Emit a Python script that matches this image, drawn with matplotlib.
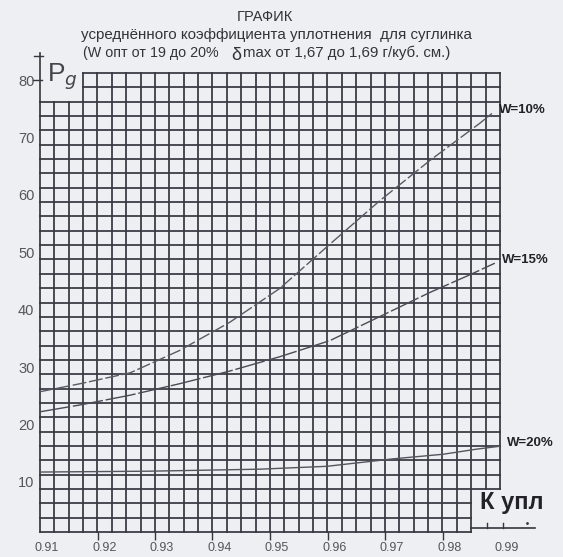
import numpy as np
import matplotlib.pyplot as plt
from matplotlib.transforms import ScaledTranslation

# values
k_upl_10 = [0.910, 0.917, 0.9257, 0.9343, 0.943, 0.9517, 0.9604, 0.9691, 0.9778, 0.9865, 0.9886]
p_10 = [25.7, 27.1, 29.0, 32.9, 37.8, 43.7, 51.4, 59.0, 66.0, 72.5, 74.2]

k_upl_15 = [0.910, 0.917, 0.9257, 0.9343, 0.943, 0.9517, 0.9604, 0.9691, 0.9778, 0.9848, 0.9891]
p_15 = [22.2, 23.4, 25.1, 27.1, 29.3, 31.8, 34.6, 38.8, 43.0, 46.1, 48.1]

k_upl_20 = [0.910, 0.9291, 0.9483, 0.9599, 0.9714, 0.9801, 0.9860, 0.990]
p_20 = [11.7, 11.85, 12.2, 12.7, 14.0, 14.8, 15.7, 16.2]

curve_labels = ['W=10%', 'W=15%', 'W=20%']

x_ticks = [0.91, 0.92, 0.93, 0.94, 0.95, 0.96, 0.97, 0.98, 0.99]
x_tick_labels = ['0.91', '0.92', '0.93', '0.94', '0.95', '0.96', '0.97', '0.98', '0.99']
y_ticks = [10, 20, 30, 40, 50, 60, 70, 80]

title_1 = 'ГРАФИК'
title_2 = 'усреднённого коэффициента уплотнения  для суглинка'
title_3a = '(W опт от 19 до 20%'
title_3b = 'max от 1,67 до 1,69 г/куб. см.)'

bg = '#eeeff3'
ink = '#363640'
narrow = ['Liberation Sans Narrow', 'Liberation Sans', 'DejaVu Sans']
plt.rcParams['font.family'] = ['Liberation Sans', 'DejaVu Sans']
plt.rcParams['mathtext.fontset'] = 'dejavusans'

fig = plt.figure(figsize=(5.63, 5.57), dpi=100, facecolor=bg)
ax = fig.add_axes([40 / 563, 1 - 532 / 557, 460 / 563, 459 / 557])
ax.set_facecolor(bg)
x0, x1 = 0.91, 0.99
y0, y1 = 1.25, 81.25
ax.set_xlim(x0, x1)
ax.set_ylim(y0, y1)
for s in ax.spines.values():
    s.set_visible(False)

# hand drawn style grid, 32 x 32 cells with two cut-out corners
dx, dy = 0.0025, 2.5
eps = 1e-6
cut_tl_x, cut_tl_y = x0 + 3 * dx, y1 - 2 * dy
cut_br_x, cut_br_y = x1 - 2 * dx, y0 + 3 * dy
for gx in np.arange(x0, x1 + eps, dx):
    lo = cut_br_y if gx > cut_br_x + eps else y0
    hi = cut_tl_y if gx < cut_tl_x - eps else y1
    ax.plot([gx, gx], [lo, hi], color=ink, lw=1.25, clip_on=False, zorder=1)
for gy in np.arange(y0, y1 + eps, dy):
    lo = cut_tl_x if gy > cut_tl_y + eps else x0
    hi = cut_br_x if gy < cut_br_y - eps else x1
    ax.plot([lo, hi], [gy, gy], color=ink, lw=1.25, clip_on=False, zorder=1)

# left axis runs up past the grid
ax.plot([x0, x0], [cut_tl_y, 84.8], color=ink, lw=1.2, clip_on=False)
ax.plot([0.9087, 0.9103], [80, 80], color=ink, lw=1.0, clip_on=False)
ax.plot([0.9090, 0.9106], [84.2, 84.2], color=ink, lw=1.0, clip_on=False)
# bottom axis runs on under the cut-out
ax.plot([cut_br_x, 0.9961], [2.0, 2.0], color=ink, lw=1.2, clip_on=False)
ax.plot([0.9877, 0.9877], [2.0, 2.8], color=ink, lw=1.0, clip_on=False)
ax.plot([0.9905, 0.9905], [2.0, 2.8], color=ink, lw=1.0, clip_on=False)
ax.plot([0.9947], [2.9], marker='.', ms=2, color=ink, clip_on=False)

# curves
ax.plot(k_upl_10, p_10, color='#5a5a64', lw=1.0, dashes=(10, 2), zorder=3)
ax.plot(k_upl_15, p_15, color='#4a4a54', lw=1.0, dashes=(22, 2), zorder=3)
ax.plot(k_upl_20, p_20, color='#55555e', lw=1.0, zorder=3)
for lab, xs, ys in zip(curve_labels, [k_upl_10, k_upl_15, k_upl_20], [p_10, p_15, p_20]):
    ax.annotate(lab, (xs[-1], ys[-1]), xytext=(5, 2.4), textcoords='offset points',
                ha='left', va='center', fontsize=9.5, fontweight='bold',
                color='#222228', annotation_clip=False)

# ticks
ax.set_xticks(x_ticks)
ax.set_xticklabels(x_tick_labels, family=narrow, fontsize=9, color='#55555c')
ax.tick_params(axis='x', length=5.5, width=1.0, color=ink, pad=1.5)
ticks = ax.xaxis.get_major_ticks()
ticks[0].tick1line.set_visible(False)
ticks[-1].tick1line.set_visible(False)
shift = ScaledTranslation(7 / 100, 0, fig.dpi_scale_trans)
for t in ax.get_xticklabels():
    t.set_transform(t.get_transform() + shift)
ax.set_yticks(y_ticks)
ax.set_yticklabels([str(v) for v in y_ticks], family=narrow, fontsize=10.5, color='#55555c')
ax.tick_params(axis='y', length=0, pad=4)

# axis names
ax.text(0.9112, 80.6, r'P$_{g}$', fontsize=19, color='#44444c', ha='left', va='center', zorder=4)
fig.text(480 / 563, 1 - 502 / 557, 'К упл', fontsize=17, fontweight='bold',
         color='#222228', ha='left', va='center')

# titles
fig.text(265 / 563, 1 - 17 / 557, title_1, fontsize=10.5, color='#333338', ha='center', va='center')
fig.text(276 / 563, 1 - 35 / 557, title_2, fontsize=10.9, color='#333338', ha='center', va='center')
fig.text(83 / 563, 1 - 53 / 557, title_3a, fontsize=10.3, color='#333338', ha='left', va='center')
fig.text(231 / 563, 1 - 55 / 557, 'δ', fontsize=13, color='#333338', ha='left', va='center')
fig.text(243 / 563, 1 - 53 / 557, title_3b, fontsize=10.8, color='#333338', ha='left', va='center')

fig.savefig('out.png', dpi=100, facecolor=bg)
